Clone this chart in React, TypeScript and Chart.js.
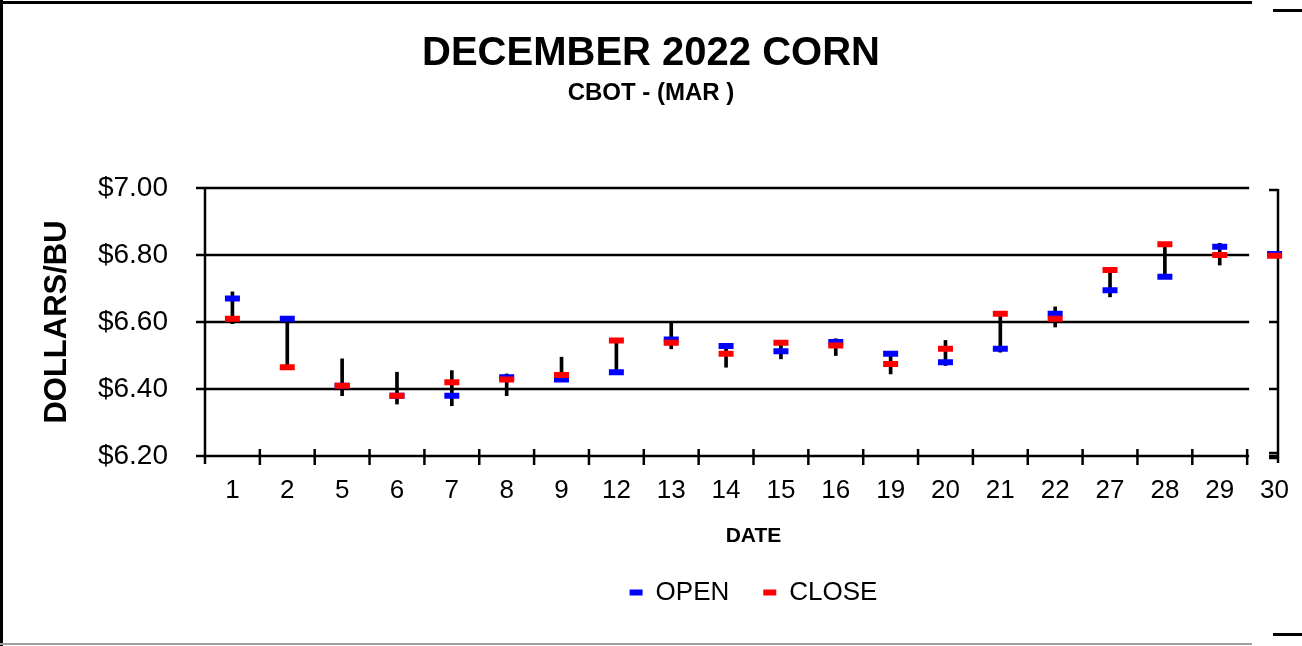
import React, { useEffect, useRef } from 'react';
import { Chart, registerables } from 'chart.js';

Chart.register(...registerables);

const DATES = ['1', '2', '5', '6', '7', '8', '9', '12', '13', '14', '15', '16', '19', '20', '21', '22', '27', '28', '29', '30'];
const OPEN = [6.67, 6.61, 6.41, 6.38, 6.38, 6.435, 6.428, 6.45, 6.548, 6.528, 6.513, 6.54, 6.505, 6.48, 6.52, 6.625, 6.695, 6.735, 6.825, 6.803];
const CLOSE = [6.61, 6.465, 6.41, 6.38, 6.42, 6.428, 6.442, 6.545, 6.538, 6.505, 6.538, 6.53, 6.475, 6.52, 6.625, 6.61, 6.755, 6.832, 6.8, 6.798];
const HIGH = [6.69, 6.61, 6.49, 6.45, 6.455, 6.445, 6.495, 6.545, 6.6, 6.535, 6.545, 6.55, 6.51, 6.545, 6.625, 6.645, 6.755, 6.832, 6.835, 6.8];
const LOW = [6.595, 6.46, 6.38, 6.355, 6.35, 6.38, 6.425, 6.45, 6.52, 6.465, 6.49, 6.5, 6.445, 6.47, 6.51, 6.585, 6.675, 6.735, 6.77, 6.8];
const Y_TICKS = [6.2, 6.4, 6.6, 6.8, 7.0];

const FONT = "'Liberation Sans', Arial, Helvetica, sans-serif";

function seg(ctx: CanvasRenderingContext2D, x1: number, y1: number, x2: number, y2: number) {
  ctx.beginPath();
  ctx.moveTo(x1, y1);
  ctx.lineTo(x2, y2);
  ctx.stroke();
}

const framePlugin = {
  id: 'frame',
  beforeDraw(chart: any) {
    const { ctx, width, height } = chart;
    ctx.save();
    ctx.fillStyle = '#ffffff';
    ctx.fillRect(0, 0, width, height);
    ctx.fillStyle = '#000000';
    ctx.fillRect(0, 0, 3, height);
    ctx.fillRect(0, 1, 1252, 3);
    ctx.fillRect(1273, 9, 29, 3);
    ctx.fillRect(1273, 633, 29, 3);
    ctx.fillStyle = '#a0a0a0';
    ctx.fillRect(0, 643, 1252, 2);
    ctx.restore();
  },
  beforeDatasetsDraw(chart: any) {
    const { ctx, chartArea } = chart;
    const x = chart.scales.x;
    const y = chart.scales.y;
    const left = chartArea.left;
    const top = y.getPixelForValue(Y_TICKS[Y_TICKS.length - 1]);
    const bottom = y.getPixelForValue(Y_TICKS[0]);
    const endX = x.getPixelForValue(DATES.length - 1.5);
    ctx.save();
    ctx.strokeStyle = '#000000';
    ctx.lineWidth = 2.5;
    Y_TICKS.forEach((v) => {
      const py = y.getPixelForValue(v);
      seg(ctx, left - 9, py, endX + 2, py);
    });
    seg(ctx, left, top - 1, left, bottom + 8);
    for (let i = 0; i < DATES.length - 1; i++) {
      const px = x.getPixelForValue(i + 0.5);
      seg(ctx, px, bottom - 7, px, bottom + 9);
    }
    const rx = chartArea.right - 24;
    seg(ctx, rx, top + 1, rx, bottom + 7);
    Y_TICKS.forEach((v, i) => {
      const py = y.getPixelForValue(v) + (i === Y_TICKS.length - 1 ? 2 : 0);
      seg(ctx, rx - 9, py, rx, py);
    });
    const by = y.getPixelForValue(Y_TICKS[0]);
    seg(ctx, rx - 9, by - 3, rx, by - 3);
    seg(ctx, rx - 9, by + 2, rx, by + 2);
    ctx.restore();
  },
};

export default function App() {
  const canvasRef = useRef<HTMLCanvasElement | null>(null);

  useEffect(() => {
    if (!canvasRef.current) return;
    const ranges = HIGH.map((h, i) => [LOW[i], h]);
    const chart = new Chart(canvasRef.current, {
      type: 'bar',
      data: {
        labels: DATES,
        datasets: [
          {
            type: 'line',
            label: 'OPEN',
            data: OPEN,
            showLine: false,
            pointStyle: 'line',
            pointRadius: 7.5,
            pointBorderWidth: 6,
            borderWidth: 5,
            borderColor: '#0000ff',
            backgroundColor: '#0000ff',
            pointBorderColor: '#0000ff',
            order: 1,
          } as any,
          {
            type: 'line',
            label: 'CLOSE',
            data: CLOSE,
            showLine: false,
            pointStyle: 'line',
            pointRadius: 7.5,
            pointBorderWidth: 6,
            borderWidth: 5,
            borderColor: '#ff0000',
            backgroundColor: '#ff0000',
            pointBorderColor: '#ff0000',
            order: 0,
          } as any,
          {
            type: 'bar',
            label: 'RANGE',
            data: ranges,
            backgroundColor: '#000000',
            borderWidth: 0,
            barThickness: 3,
            order: 2,
          } as any,
        ],
      },
      options: {
        responsive: false,
        animation: false,
        events: [],
        layout: { autoPadding: false, padding: { left: 0, right: 0, top: 0, bottom: 30.5 } },
        scales: {
          x: {
            type: 'category',
            offset: true,
            grid: { display: false, drawTicks: true, tickLength: 8 },
            border: { display: false },
            ticks: {
              font: { family: FONT, size: 26 },
              color: '#000000',
              padding: 11,
              autoSkip: false,
              maxRotation: 0,
              minRotation: 0,
            },
            title: {
              display: true,
              text: 'DATE',
              font: { family: FONT, size: 21, weight: 'bold' },
              color: '#000000',
              padding: { top: 0, bottom: -3 },
            },
            afterFit(s: any) {
              s.height = 89.5;
              s.paddingRight = 0;
              s.paddingLeft = 0;
            },
          },
          y: {
            type: 'linear',
            min: Y_TICKS[0],
            max: Y_TICKS[Y_TICKS.length - 1],
            grid: { display: false },
            border: { display: false },
            afterBuildTicks(s: any) {
              s.ticks = Y_TICKS.map((v) => ({ value: v }));
            },
            ticks: {
              callback: (v: any) => '$' + Number(v).toFixed(2),
              font: { family: FONT, size: 28 },
              color: '#000000',
              padding: 29,
            },
            title: {
              display: true,
              text: 'DOLLARS/BU',
              font: { family: FONT, size: 31, weight: 'bold' },
              color: '#000000',
              padding: { top: 38.4, bottom: 0 },
            },
            afterFit(s: any) {
              s.width = 205;
            },
          },
        },
        plugins: {
          title: {
            display: true,
            text: 'DECEMBER 2022 CORN',
            font: { family: FONT, size: 40, weight: 'bold' },
            color: '#000000',
            padding: { top: 30, bottom: 0 },
          },
          subtitle: {
            display: true,
            text: 'CBOT - (MAR )',
            font: { family: FONT, size: 24, weight: 'bold' },
            color: '#000000',
            padding: { top: 1, bottom: 80.2 },
          },
          legend: {
            display: true,
            position: 'bottom',
            fullSize: false,
            labels: {
              usePointStyle: true,
              pointStyleWidth: 13,
              font: { family: FONT, size: 26 },
              color: '#000000',
              padding: 34,
              filter: (item: any) => item.datasetIndex !== 2,
              sort: (a: any, b: any) => a.datasetIndex - b.datasetIndex,
            },
          },
          tooltip: { enabled: false },
        },
      },
      plugins: [framePlugin],
    });
    return () => chart.destroy();
  }, []);

  return (
    <div style={{ position: 'absolute', left: 0, top: 0, width: 1302, height: 646 }}>
      <canvas ref={canvasRef} width={1302} height={646} style={{ display: 'block' }} />
    </div>
  );
}
